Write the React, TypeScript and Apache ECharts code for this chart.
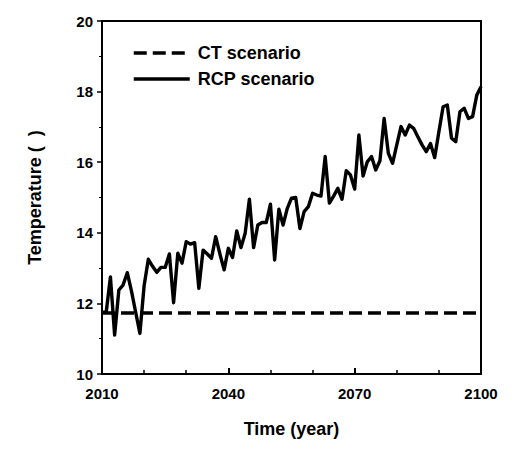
import React, { useEffect, useRef } from "react";
import * as echarts from "echarts";

const startYear = 2010;
const endYear = 2100;
const rcpValues = [
  11.75, 11.75, 12.75, 11.1, 12.38, 12.52, 12.87, 12.35, 11.75, 11.15,
  12.5, 13.25, 13.05, 12.88, 13.02, 13.02, 13.4, 12.02, 13.42, 13.14,
  13.75, 13.68, 13.72, 12.43, 13.51, 13.4, 13.28, 13.89, 13.4, 12.95,
  13.56, 13.3, 14.05, 13.58, 13.99, 14.95, 13.58, 14.22, 14.29, 14.29,
  14.81, 13.23, 14.67, 14.22, 14.69, 14.98, 15.0, 14.12, 14.6, 14.74,
  15.12, 15.07, 15.04, 16.16, 14.84, 15.04, 15.26, 14.95, 15.76, 15.64,
  15.24, 16.77, 15.61, 16.01, 16.16, 15.78, 16.04, 17.24, 16.25, 15.97,
  16.49, 17.01, 16.77, 17.05, 16.96, 16.72, 16.49, 16.3, 16.53, 16.13,
  16.86, 17.57, 17.62, 16.68, 16.58, 17.43, 17.53, 17.24, 17.29, 17.9,
  18.14,
];
const ctLevel = 11.73;
const seriesNames = ["CT scenario", "RCP scenario"];
const yTicks = { min: 10, max: 20, interval: 2 };
const xTicks = { min: 2010, max: 2100, interval: 30 };

const FONT = "'Liberation Sans', Arial, sans-serif";

export default function App() {
  const ref = useRef<HTMLDivElement>(null);
  useEffect(() => {
    if (!ref.current) return;
    const chart = echarts.init(ref.current, null, { renderer: "svg" });
    const rcpData = rcpValues.map((v, i) => [startYear + i, v]);
    const ctData = [
      [startYear, ctLevel],
      [endYear, ctLevel],
    ];
    chart.setOption({
      animation: false,
      backgroundColor: "#ffffff",
      grid: {
        left: 102,
        right: 44,
        top: 21,
        bottom: 75,
        show: true,
        borderColor: "#000",
        borderWidth: 2,
        backgroundColor: "transparent",
      },
      legend: {
        orient: "vertical",
        left: 127,
        top: 39,
        itemWidth: 56,
        itemHeight: 14,
        itemGap: 8,
        data: seriesNames,
        itemStyle: { opacity: 0, borderWidth: 0 },
        lineStyle: { width: 3.5 },
        textStyle: {
          fontFamily: FONT,
          fontWeight: "bold",
          fontSize: 18,
          color: "#000",
          padding: [0, 0, 0, 3],
        },
      },
      xAxis: {
        type: "value",
        min: xTicks.min,
        max: xTicks.max,
        interval: xTicks.interval,
        name: "Time (year)",
        nameLocation: "middle",
        nameGap: 46,
        nameTextStyle: {
          fontFamily: FONT,
          fontWeight: "bold",
          fontSize: 18,
          color: "#000",
        },
        axisLine: { show: true, lineStyle: { color: "#000", width: 2 } },
        axisTick: { show: true, inside: true, length: 6, lineStyle: { color: "#000", width: 2 } },
        minorTick: { show: true, splitNumber: 3, length: 4, lineStyle: { color: "#000", width: 1.5 } },
        splitLine: { show: false },
        axisLabel: {
          margin: 12,
          fontFamily: FONT,
          fontWeight: "bold",
          fontSize: 15,
          color: "#000",
          formatter: (v: number) => String(v),
        },
      },
      yAxis: {
        type: "value",
        min: yTicks.min,
        max: yTicks.max,
        interval: yTicks.interval,
        name: "Temperature (  )",
        nameLocation: "middle",
        nameGap: 58,
        nameTextStyle: {
          fontFamily: FONT,
          fontWeight: "bold",
          fontSize: 18,
          color: "#000",
        },
        axisLine: { show: true, lineStyle: { color: "#000", width: 2 } },
        axisTick: { show: true, inside: false, length: 5, lineStyle: { color: "#000", width: 1.5 } },
        minorTick: { show: true, splitNumber: 2, length: 3, lineStyle: { color: "#000", width: 1 } },
        splitLine: { show: false },
        axisLabel: {
          margin: 9,
          fontFamily: FONT,
          fontWeight: "bold",
          fontSize: 15,
          color: "#000",
        },
      },
      series: [
        {
          name: seriesNames[0],
          type: "line",
          data: ctData,
          symbol: "none",
          color: "#000",
          lineStyle: { color: "#000", width: 3.5, type: [13, 6] },
          z: 2,
        },
        {
          name: seriesNames[1],
          type: "line",
          data: rcpData,
          symbol: "none",
          color: "#000",
          lineStyle: { color: "#000", width: 3.4, join: "round" },
          z: 3,
        },
      ],
    });
    return () => chart.dispose();
  }, []);
  return (
    <div
      ref={ref}
      style={{ position: "absolute", left: 0, top: 0, width: 525, height: 449, background: "#fff" }}
    />
  );
}
